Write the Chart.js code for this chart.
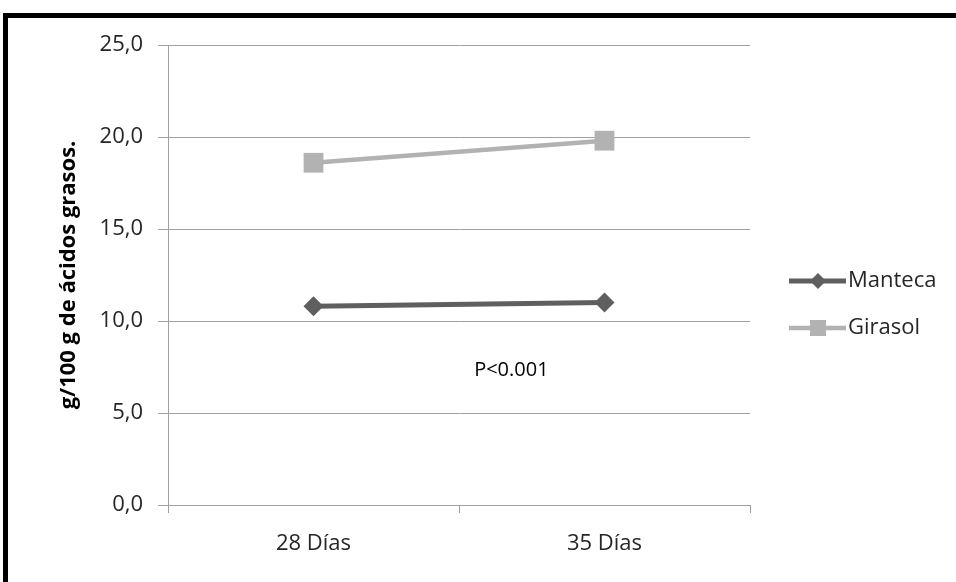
<!DOCTYPE html>
<html>
<head>
<meta charset="utf-8">
<script src="https://cdn.jsdelivr.net/npm/chart.js@4.4.0/dist/chart.umd.min.js"></script>
<style>
  html, body { margin: 0; padding: 0; background: #fff; overflow: hidden; }
  #wrap { position: relative; width: 956px; height: 582px; }
  #marco { position: absolute; left: 3px; top: 13px; width: 1000px; height: 1000px;
           border: 5px solid #000; pointer-events: none; }
</style>
</head>
<body>
<div id="wrap">
  <canvas id="grafico" width="956" height="582"></canvas>
  <div id="marco"></div>
</div>
<script>
// Datos del gráfico
const dias = ["28 Días", "35 Días"];
const manteca = [10.8, 11.0];
const girasol = [18.6, 19.8];
const tituloY = "g/100 g de ácidos grasos.";
const nota = "P<0.001";

const fuente = "'Open Sans', sans-serif";

// Leyenda a la derecha: línea + marcador + texto
const leyendaPlugin = {
  id: "leyenda",
  afterDraw(chart) {
    const ctx = chart.ctx;
    const area = chart.chartArea;
    const x0 = area.right + 39;
    chart.data.datasets.forEach((ds, i) => {
      const y = 281 + i * 47;
      ctx.save();
      ctx.strokeStyle = ds.borderColor;
      ctx.lineWidth = ds.borderWidth;
      ctx.beginPath();
      ctx.moveTo(x0, y);
      ctx.lineTo(x0 + 57, y);
      ctx.stroke();
      ctx.fillStyle = ds.pointBackgroundColor;
      if (ds.pointStyle === "rectRot") {
        ctx.beginPath();
        ctx.moveTo(x0 + 29, y - 8);
        ctx.lineTo(x0 + 37, y);
        ctx.lineTo(x0 + 29, y + 8);
        ctx.lineTo(x0 + 21, y);
        ctx.closePath();
        ctx.fill();
      } else {
        ctx.fillRect(x0 + 21, y - 8, 16, 16);
      }
      ctx.fillStyle = "#262626";
      ctx.font = "22px " + fuente;
      ctx.textBaseline = "middle";
      ctx.fillText(ds.label, x0 + 59, y);
      ctx.restore();
    });
  }
};

// Texto P<0.001 dentro del área
const notaPlugin = {
  id: "nota",
  afterDraw(chart) {
    const ctx = chart.ctx;
    const x = chart.scales.x.getPixelForValue(0.68);
    const y = chart.scales.y.getPixelForValue(7.3);
    ctx.save();
    ctx.fillStyle = "#000";
    ctx.font = "20px " + fuente;
    ctx.textAlign = "center";
    ctx.textBaseline = "middle";
    ctx.fillText(nota, x, y);
    ctx.restore();
  }
};

new Chart(document.getElementById("grafico"), {
  type: "line",
  data: {
    labels: dias,
    datasets: [
      {
        label: "Manteca",
        data: manteca,
        borderColor: "#5f5f5f",
        backgroundColor: "#5f5f5f",
        pointBackgroundColor: "#5f5f5f",
        pointBorderColor: "#5f5f5f",
        borderWidth: 5,
        pointStyle: "rectRot",
        pointRadius: 10,
        pointBorderWidth: 0
      },
      {
        label: "Girasol",
        data: girasol,
        borderColor: "#b2b2b2",
        backgroundColor: "#b2b2b2",
        pointBackgroundColor: "#b2b2b2",
        pointBorderColor: "#b2b2b2",
        borderWidth: 4.5,
        pointStyle: "rect",
        pointRadius: 14,
        pointBorderWidth: 0
      }
    ]
  },
  options: {
    responsive: false,
    devicePixelRatio: 1,
    animation: false,
    layout: { padding: { left: 0, top: 45, right: 206, bottom: 0 } },
    plugins: {
      legend: { display: false },
      tooltip: { enabled: false }
    },
    scales: {
      x: {
        offset: true,
        grid: { offset: true, drawOnChartArea: false, drawTicks: true, tickLength: 8, color: "#a0a0a0" },
        border: { color: "#a0a0a0" },
        ticks: { color: "#262626", font: { family: fuente, size: 22 }, padding: 18 },
        afterFit(scale) { scale.height = 77; }
      },
      y: {
        min: 0,
        max: 25,
        ticks: {
          stepSize: 5,
          color: "#262626",
          font: { family: fuente, size: 22 },
          padding: 15,
          callback: v => v.toFixed(1).replace(".", ",")
        },
        grid: { color: "#a0a0a0", tickLength: 10 },
        border: { color: "#a0a0a0" },
        title: {
          display: true,
          text: tituloY,
          color: "#000",
          font: { family: fuente, size: 22, weight: "bold" },
          padding: { top: 56, bottom: 0 }
        },
        afterFit(scale) { scale.width = 168; }
      }
    }
  },
  plugins: [leyendaPlugin, notaPlugin]
});
</script>
</body>
</html>
